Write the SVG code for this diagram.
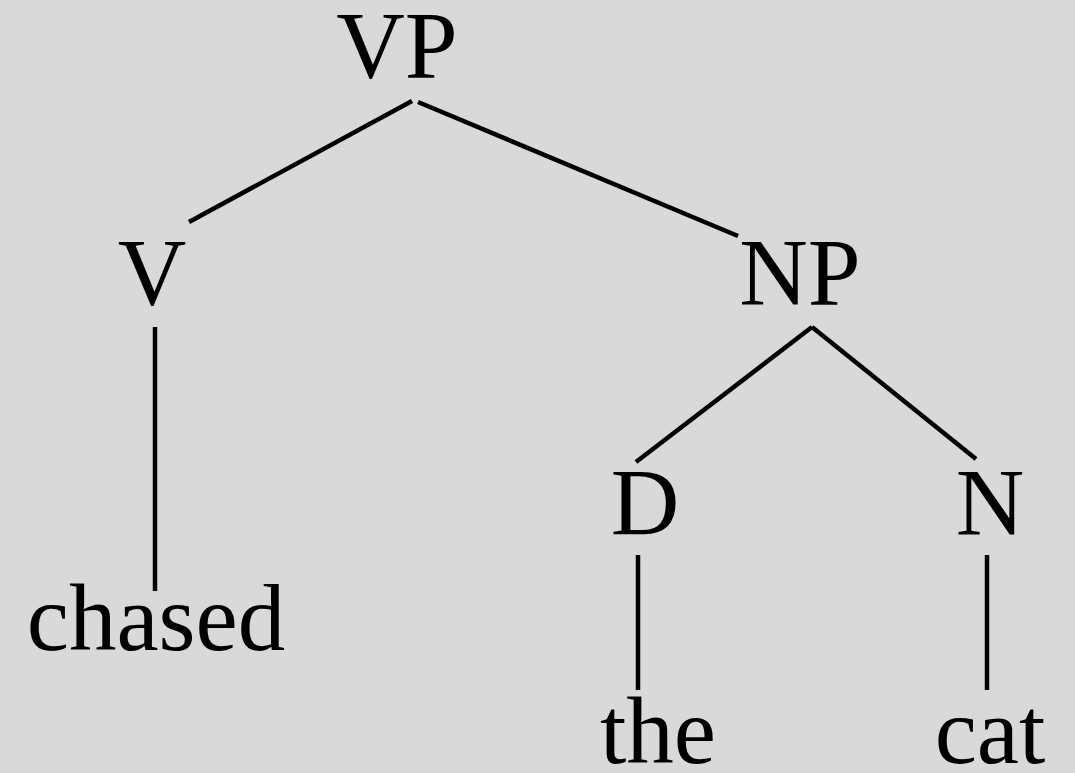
<svg xmlns="http://www.w3.org/2000/svg" width="1075" height="773" viewBox="0 0 1075 773">
<style>
text{font-family:"Liberation Serif","Times New Roman",serif;font-size:95px;fill:#000;text-anchor:middle}
line{stroke:#000;stroke-width:4.5}
</style>
<rect width="1075" height="773" fill="#d9d9d9"/>
<g id="connectors">
<line x1="412" y1="101" x2="189" y2="222"/>
<line x1="418" y1="102" x2="738" y2="236"/>
<line x1="155" y1="327" x2="155" y2="591"/>
<line x1="812" y1="327" x2="636" y2="462"/>
<line x1="812" y1="327" x2="976" y2="459"/>
<line x1="638" y1="555" x2="638" y2="690"/>
<line x1="987" y1="555" x2="987" y2="690"/>
</g>
<g id="VP"><text x="397" y="78">VP</text></g>
<g id="V"><text x="152" y="305">V</text></g>
<g id="NP"><text x="800" y="305">NP</text></g>
<g id="chased"><text x="156" y="650">chased</text></g>
<g id="D"><text x="645" y="535">D</text></g>
<g id="N"><text x="990" y="535">N</text></g>
<g id="the"><text x="658" y="763">the</text></g>
<g id="cat"><text x="990" y="763">cat</text></g>
</svg>
